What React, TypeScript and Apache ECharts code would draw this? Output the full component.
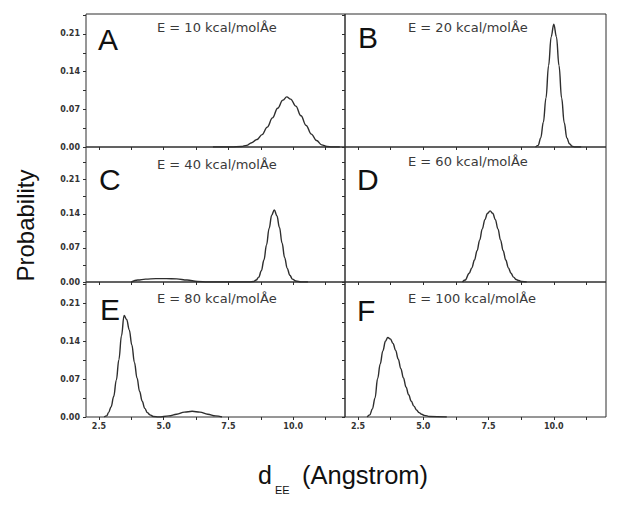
import React, { useEffect, useRef } from "react";
import * as echarts from "echarts";

// ---- data ----
const panelA: [number, number][] = [
  [6.9, 0], [7.2, 0], [7.6, 0], [8.0, 0.001], [8.2, 0.003], [8.4, 0.008], [8.6, 0.014],
  [8.8, 0.023], [9.0, 0.037], [9.2, 0.054], [9.4, 0.072], [9.6, 0.087], [9.75, 0.093],
  [9.9, 0.089], [10.1, 0.076], [10.3, 0.058], [10.5, 0.04], [10.7, 0.024], [10.9, 0.012],
  [11.1, 0.004], [11.3, 0.001], [11.5, 0], [11.8, 0],
];
const panelB: [number, number][] = [
  [9.3, 0], [9.4, 0.003], [9.5, 0.017], [9.6, 0.046], [9.7, 0.091], [9.8, 0.151],
  [9.9, 0.205], [10.0, 0.228], [10.1, 0.205], [10.2, 0.151], [10.3, 0.091], [10.4, 0.045],
  [10.5, 0.017], [10.6, 0.006], [10.7, 0.0015], [10.8, 0], [11.05, 0],
];
const panelC: [number, number][] = [
  [3.75, 0], [4.0, 0.004], [4.3, 0.006], [4.7, 0.007], [5.1, 0.007], [5.5, 0.0065],
  [5.9, 0.004], [6.3, 0.001], [6.7, 0], [7.5, 0], [8.3, 0], [8.47, 0.001], [8.57, 0.004],
  [8.67, 0.01], [8.77, 0.023], [8.87, 0.045], [8.97, 0.076], [9.07, 0.11], [9.17, 0.137],
  [9.27, 0.148], [9.37, 0.136], [9.47, 0.112], [9.57, 0.08], [9.67, 0.05], [9.77, 0.028],
  [9.87, 0.014], [9.97, 0.006], [10.1, 0.002], [10.3, 0], [10.57, 0],
];
const panelD: [number, number][] = [
  [6.5, 0], [6.6, 0.004], [6.76, 0.018], [6.86, 0.029], [6.96, 0.045], [7.06, 0.064],
  [7.16, 0.086], [7.26, 0.109], [7.36, 0.128], [7.46, 0.141], [7.56, 0.146], [7.66, 0.141],
  [7.76, 0.128], [7.86, 0.109], [7.96, 0.086], [8.06, 0.064], [8.16, 0.045], [8.26, 0.029],
  [8.36, 0.018], [8.46, 0.01], [8.56, 0.005], [8.66, 0.003], [8.77, 0.001], [8.96, 0],
];
const panelE: [number, number][] = [
  [2.7, 0], [2.8, 0.002], [2.87, 0.008], [2.97, 0.019], [3.07, 0.038], [3.17, 0.068],
  [3.27, 0.106], [3.37, 0.15], [3.47, 0.1875], [3.57, 0.18], [3.67, 0.161], [3.77, 0.133],
  [3.87, 0.101], [3.97, 0.072], [4.07, 0.047], [4.17, 0.029], [4.27, 0.016], [4.37, 0.008],
  [4.47, 0.004], [4.6, 0.001], [4.8, 0], [5.2, 0.002], [5.5, 0.005], [5.8, 0.009],
  [6.1, 0.0106], [6.4, 0.009], [6.7, 0.005], [7.0, 0.002], [7.25, 0],
];
const panelF: [number, number][] = [
  [2.85, 0], [2.95, 0.004], [3.05, 0.015], [3.15, 0.035], [3.25, 0.071], [3.35, 0.098],
  [3.45, 0.122], [3.55, 0.14], [3.64, 0.147], [3.74, 0.144], [3.84, 0.136], [3.94, 0.123],
  [4.04, 0.107], [4.14, 0.089], [4.24, 0.072], [4.34, 0.055], [4.44, 0.041], [4.54, 0.029],
  [4.64, 0.02], [4.74, 0.013], [4.84, 0.008], [4.94, 0.005], [5.04, 0.003], [5.24, 0.001],
  [5.9, 0],
];

const panelLetters = ["A", "B", "C", "D", "E", "F"];
const energies = [10, 20, 40, 60, 80, 100];
const xTickLabels = [2.5, 5, 7.5, 10];
const xTicks = [2.5, 3.75, 5, 6.25, 7.5, 8.75, 10, 11.25];
const yTickLabels = [0, 0.07, 0.14, 0.21];
const yTicks = [0, 0.035, 0.07, 0.105, 0.14, 0.175, 0.21, 0.245];

const panelData = [panelA, panelB, panelC, panelD, panelE, panelF];

// ---- layout ----
const cols = [
  { left: 86, width: 259 },
  { left: 345, width: 261 },
];
const rows = [
  { top: 14, height: 133, max: 0.247 },
  { top: 147, height: 135, max: 0.277 },
  { top: 282, height: 135, max: 0.2494 },
];
const letterPos = [
  [98, 39], [358, 37.5], [99, 179], [357, 179], [100, 309.5], [357, 310],
];
const subPos = [
  [157, 27.7], [408, 27.7], [157, 164], [408, 161.7], [157, 298.3], [408, 298.3],
];

const INK = "#2e2e2e";

export default function App() {
  const ref = useRef<HTMLDivElement>(null);
  useEffect(() => {
    if (!ref.current) return;
    const chart = echarts.init(ref.current, undefined, { renderer: "svg" });
    const grids: any[] = [];
    const xAxes: any[] = [];
    const yAxes: any[] = [];
    const series: any[] = [];
    const graphics: any[] = [];
    panelData.forEach((data, i) => {
      const r = Math.floor(i / 2);
      const c = i % 2;
      const col = cols[c];
      const row = rows[r];
      grids.push({
        left: col.left,
        top: row.top,
        width: col.width,
        height: row.height,
        show: true,
        borderColor: INK,
        borderWidth: 1,
        backgroundColor: "transparent",
      });
      xAxes.push({
        type: "value",
        gridIndex: i,
        min: 2,
        max: 12,
        axisLine: { show: false },
        splitLine: { show: false },
        axisTick: {
          show: true,
          inside: false,
          length: 3,
          customValues: xTicks,
          lineStyle: { color: INK, width: 1 },
        },
        axisLabel: {
          show: r === 2,
          customValues: xTickLabels,
          formatter: (v: number) => v.toFixed(1),
          fontSize: 8,
          fontWeight: "bold",
          fontFamily: "DejaVu Sans",
          color: "#333",
          margin: 5,
        },
      });
      yAxes.push({
        type: "value",
        gridIndex: i,
        min: 0,
        max: row.max,
        axisLine: { show: false },
        splitLine: { show: false },
        axisTick: {
          show: true,
          inside: false,
          length: 3,
          customValues: yTicks.filter((t) => t <= row.max),
          lineStyle: { color: INK, width: 1 },
        },
        axisLabel: {
          show: c === 0,
          customValues: yTickLabels,
          formatter: (v: number) => v.toFixed(2),
          fontSize: 8,
          fontWeight: "bold",
          fontFamily: "DejaVu Sans",
          color: "#333",
          margin: 6,
        },
      });
      series.push({
        type: "line",
        xAxisIndex: i,
        yAxisIndex: i,
        data,
        showSymbol: false,
        smooth: 0.4,
        smoothMonotone: "x",
        lineStyle: { color: INK, width: 1.4 },
        silent: true,
      });
      graphics.push({
        type: "text",
        x: letterPos[i][0],
        y: letterPos[i][1],
        style: {
          text: panelLetters[i],
          font: "30px 'Liberation Sans'",
          fill: "#111",
          align: "left",
          verticalAlign: "middle",
        },
      });
      graphics.push({
        type: "text",
        x: subPos[i][0],
        y: subPos[i][1],
        style: {
          text: `E = ${energies[i]} kcal/molÅe`,
          font: "13px 'DejaVu Sans'",
          fill: "#3a3a3a",
          align: "left",
          verticalAlign: "middle",
        },
      });
    });
    graphics.push({
      type: "text",
      x: 25,
      y: 225.5,
      rotation: Math.PI / 2,
      style: {
        text: "Probability",
        font: "24px 'Liberation Sans'",
        fill: "#111",
        align: "center",
        verticalAlign: "middle",
      },
    });
    graphics.push({
      type: "text",
      x: 258,
      y: 475,
      style: {
        text: "d",
        font: "25px 'Liberation Sans'",
        fill: "#111",
        align: "left",
        verticalAlign: "middle",
      },
    });
    graphics.push({
      type: "text",
      x: 275,
      y: 490,
      style: {
        text: "EE",
        font: "11px 'Liberation Sans'",
        fill: "#111",
        align: "left",
        verticalAlign: "middle",
      },
    });
    graphics.push({
      type: "text",
      x: 302,
      y: 475,
      style: {
        text: "(Angstrom)",
        font: "25.5px 'Liberation Sans'",
        fill: "#111",
        align: "left",
        verticalAlign: "middle",
      },
    });
    chart.setOption({
      animation: false,
      backgroundColor: "#fff",
      grid: grids,
      xAxis: xAxes,
      yAxis: yAxes,
      series,
      graphic: graphics,
    });
    return () => chart.dispose();
  }, []);
  return (
    <div
      ref={ref}
      style={{ position: "absolute", left: 0, top: 0, width: 617, height: 508 }}
    />
  );
}
